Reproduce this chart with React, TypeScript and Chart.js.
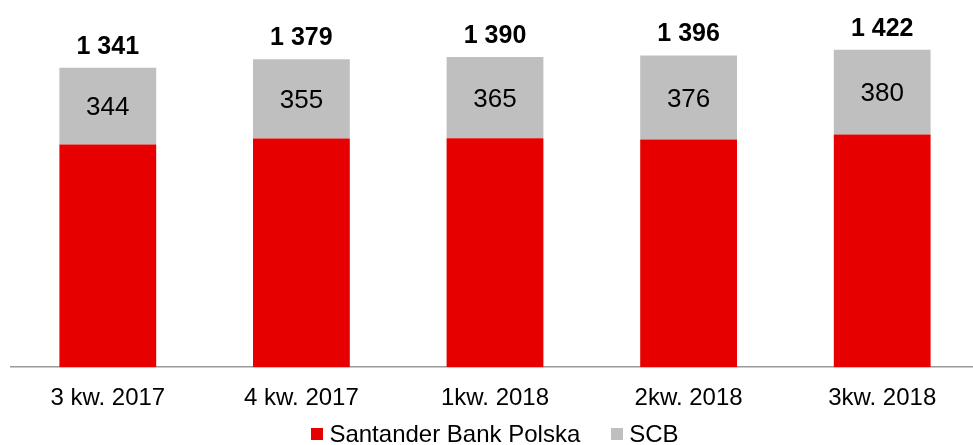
import React, { useEffect, useRef } from "react";
import { Chart, registerables } from "chart.js";

Chart.register(...registerables);

const categories = ["3 kw. 2017", "4 kw. 2017", "1kw. 2018", "2kw. 2018", "3kw. 2018"];
const totals = [1341, 1379, 1390, 1396, 1422];
const scbValues = [344, 355, 365, 376, 380];
const santanderValues = [997, 1024, 1025, 1020, 1042];
const seriesNames = ["Santander Bank Polska", "SCB"];

const FONT = "'Liberation Sans', Arial, Helvetica, sans-serif";
const RED = "#E60000";
const GREY = "#BFBFBF";

const fmt = (v: number) => {
  const s = String(v);
  return s.length > 3 ? s.slice(0, s.length - 3) + " " + s.slice(-3) : s;
};

const labelPlugin = {
  id: "valueLabels",
  afterDatasetsDraw(chart: any) {
    const ctx = chart.ctx;
    const x = chart.scales.x;
    const y = chart.scales.y;
    ctx.save();
    ctx.textAlign = "center";
    ctx.textBaseline = "middle";
    ctx.fillStyle = "#000";
    categories.forEach((_, i) => {
      const cx = x.getPixelForValue(i);
      const base = santanderValues[i];
      const mid = y.getPixelForValue(base + scbValues[i] / 2);
      ctx.font = `26px ${FONT}`;
      ctx.fillText(String(scbValues[i]), cx, mid + 2);
      const top = y.getPixelForValue(totals[i]);
      ctx.font = `bold 25px ${FONT}`;
      ctx.fillText(fmt(totals[i]), cx, top - 21);
    });
    ctx.restore();
  },
};

const legendPlugin = {
  id: "bottomLegend",
  afterDraw(chart: any) {
    const ctx = chart.ctx;
    const area = chart.chartArea;
    const colors = chart.data.datasets.map((d: any) => d.backgroundColor);
    const names = chart.data.datasets.map((d: any) => d.label);
    ctx.save();
    ctx.font = `24px ${FONT}`;
    ctx.textBaseline = "middle";
    ctx.textAlign = "left";
    const box = 12;
    const gap = 6;
    const itemGap = 31;
    const widths = names.map((n: string) => ctx.measureText(n).width);
    const total =
      widths.reduce((a: number, w: number) => a + box + gap + w, 0) + itemGap * (names.length - 1);
    let x = (area.left + area.right) / 2 - total / 2;
    const cy = 434;
    names.forEach((n: string, i: number) => {
      ctx.fillStyle = colors[i];
      ctx.fillRect(Math.round(x), cy - box / 2, box, box);
      ctx.fillStyle = "#000";
      ctx.fillText(n, x + box + gap, cy + 1);
      x += box + gap + widths[i] + itemGap;
    });
    ctx.restore();
  },
};

export default function App() {
  const ref = useRef<HTMLCanvasElement | null>(null);
  useEffect(() => {
    if (!ref.current) return;
    const chart = new Chart(ref.current, {
      type: "bar",
      data: {
        labels: categories,
        datasets: [
          {
            label: seriesNames[0],
            data: santanderValues,
            backgroundColor: RED,
            barPercentage: 0.5,
            categoryPercentage: 1,
          },
          {
            label: seriesNames[1],
            data: scbValues,
            backgroundColor: GREY,
            barPercentage: 0.5,
            categoryPercentage: 1,
          },
        ],
      },
      options: {
        responsive: false,
        animation: false,
        devicePixelRatio: 1,
        layout: { padding: { left: 11, right: 11, top: 10, bottom: 15 } },
        plugins: {
          tooltip: { enabled: false },
          legend: { display: false },
        },
        scales: {
          x: {
            stacked: true,
            grid: { display: false, drawTicks: false },
            border: { display: true, color: "#999999", width: 1.5 },
            ticks: {
              color: "#000",
              padding: 17,
              font: { family: FONT, size: 24 },
              maxRotation: 0,
            },
          },
          y: {
            stacked: true,
            display: false,
            min: 0,
            max: 1600,
          },
        },
      },
      plugins: [labelPlugin, legendPlugin],
    });
    return () => chart.destroy();
  }, []);
  return (
    <div
      style={{
        position: "absolute",
        left: 0,
        top: 0,
        width: 973,
        height: 445,
        overflow: "hidden",
        background: "#fff",
      }}
    >
      <canvas ref={ref} width={990} height={445} style={{ width: 990, height: 445 }} />
    </div>
  );
}
